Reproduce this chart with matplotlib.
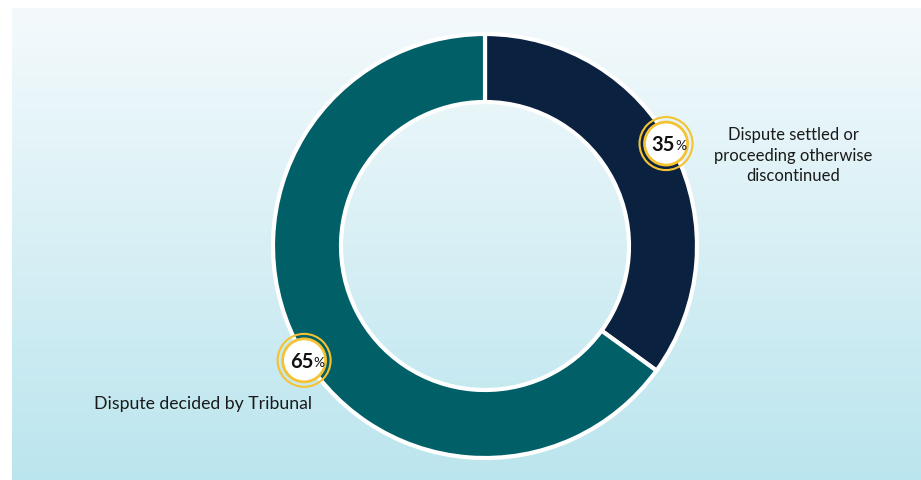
import matplotlib
matplotlib.use("Agg")
import matplotlib.pyplot as plt
import numpy as np
from matplotlib.patches import Circle

categories = ["Dispute settled or\nproceeding otherwise\ndiscontinued", "Dispute decided by Tribunal"]
values = [35, 65]
colors = ["#0a2240", "#005f67"]

plt.rcParams['font.family'] = ['Lato', 'DejaVu Sans']

W, H = 921, 481
fig = plt.figure(figsize=(W / 100, H / 100), dpi=100)
fig.patch.set_facecolor("white")

# gradient panel
bg = fig.add_axes([12 / W, 0, (W - 12) / W, (H - 9) / H])
top = np.array([0xf4, 0xfa, 0xfc]) / 255
bot = np.array([0xbb, 0xe5, 0xee]) / 255
t = np.linspace(0, 1, 256)[:, None]
grad = top[None, :] * (1 - t) + bot[None, :] * t
bg.imshow(grad[:, None, :].repeat(2, axis=1), aspect="auto", extent=[0, 1, 0, 1])
bg.axis("off")

ax = fig.add_axes([0, 0, 1, 1])
ax.patch.set_alpha(0)

cx, cy, R = 485, H - 247, 212
width = 68
wedges, _ = ax.pie(values, colors=colors, startangle=90, counterclock=False,
                   center=(cx, cy), radius=R, frame=True,
                   wedgeprops=dict(width=width, edgecolor="white", linewidth=3))
ax.set_xlim(0, W)
ax.set_ylim(0, H)
ax.set_aspect("equal")
ax.axis("off")

# badges placed along the outer edge of the ring
badge_angles = [29.5, 212.3]
badge_dist = [208, 214]
yellow = "#f5c232"
for i, v in enumerate(values):
    m = np.deg2rad(badge_angles[i])
    bx = cx + badge_dist[i] * np.cos(m)
    by = cy + badge_dist[i] * np.sin(m)
    ax.add_patch(Circle((bx, by), 21.5, facecolor="white", edgecolor=yellow, lw=2, zorder=5))
    ax.add_patch(Circle((bx, by), 26.5, facecolor="none", edgecolor=yellow, lw=1.5, zorder=5))
    ax.text(bx + 9, by - 0.5, f"{v}", ha="right", va="center", fontsize=14.5,
            fontweight="bold", color="#111111", zorder=6)
    ax.text(bx + 9, by - 1.5, "%", ha="left", va="center", fontsize=10,
            color="#111111", zorder=6)
    if i == 0:
        ax.text(793, H - 155.5, categories[i], ha="center", va="center", fontsize=12,
                color="#1a1a1a", linespacing=1.38)
    else:
        ax.text(94, H - 404, categories[i], ha="left", va="center", fontsize=12.7,
                color="#1a1a1a")

fig.savefig("out.png", dpi=100)
